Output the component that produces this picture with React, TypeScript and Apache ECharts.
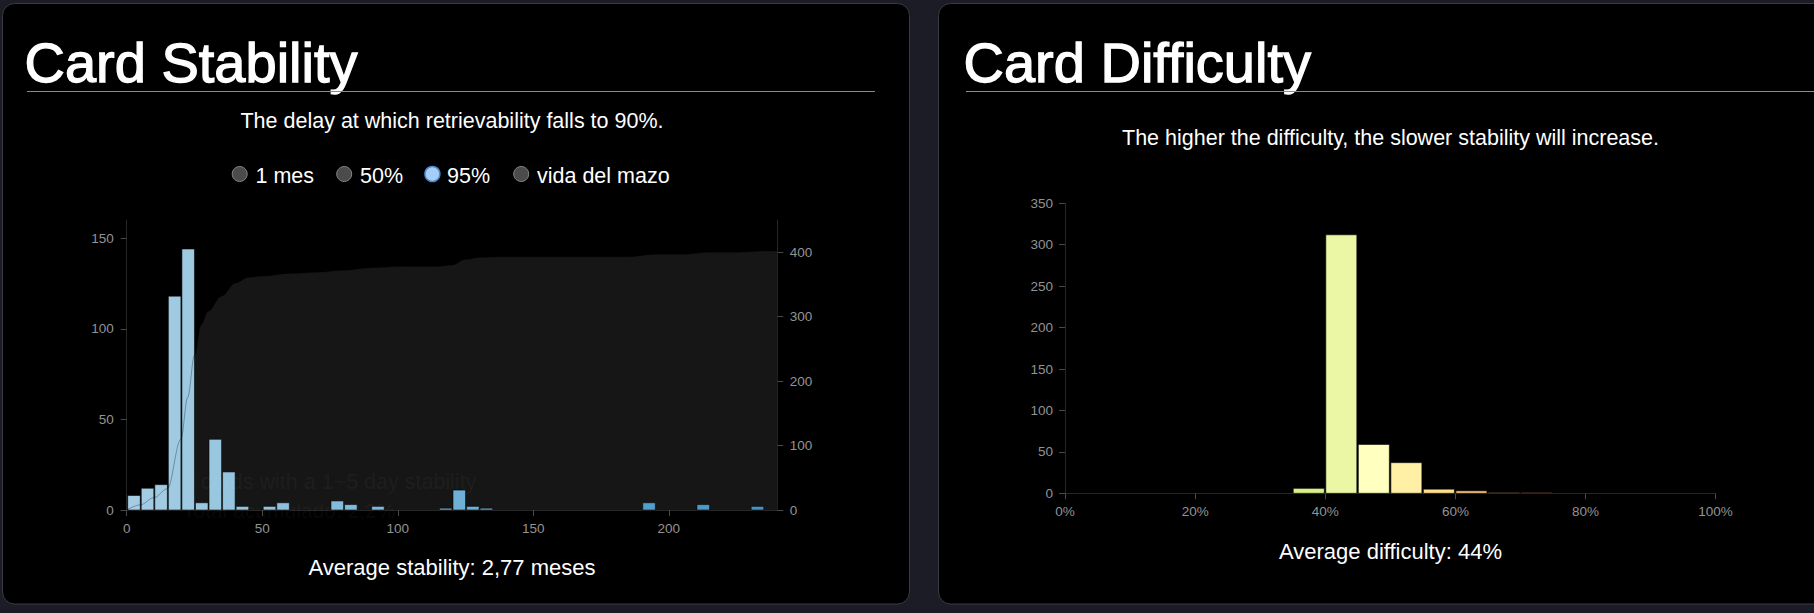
import React, { useEffect, useRef } from "react";
import * as echarts from "echarts";

// ---------- data ----------
const stabilityBinStart = [0, 5, 10, 15, 20, 25, 30, 35, 40, 50, 55, 75, 80, 90, 115, 120, 125, 130, 190, 210, 230];
const stabilityCounts = [8, 12, 14, 118, 144, 4, 39, 21, 2, 2, 4, 5, 3, 2, 1, 11, 2, 1, 4, 3, 2];
const stabilityBinWidth = 5;

const cumulativeDays = [0, 5, 10, 15, 20, 22.5, 25, 27.5, 30, 35, 40, 45, 50, 60, 70, 80, 90, 100, 115, 120, 125, 130, 140, 185, 195, 205, 215, 225, 235, 240];
const cumulativeCards = [0, 8, 19, 33, 110, 175, 240, 288, 308, 332, 352, 361, 363, 367, 369, 372, 376, 378, 378, 380, 389, 392, 393, 393, 397, 397, 400, 400, 402, 402];

const difficultyBinStart = [35, 40, 45, 50, 55, 60, 65, 70];
const difficultyCounts = [6, 312, 59, 37, 5, 3, 1, 1];
const difficultyBinWidth = 5;

const stabilityXTicks = [0, 50, 100, 150, 200];
const stabilityYTicks = [0, 50, 100, 150];
const cumulativeTicks = [0, 100, 200, 300, 400];

const radioLabels = ["1 mes", "50%", "95%", "vida del mazo"];
const radioChecked = [false, false, true, false];

// ---------- colours ----------
const BLUES = ["#f7fbff", "#deebf7", "#c6dbef", "#9ecae1", "#6baed6", "#4292c6", "#2171b5", "#08519c", "#08306b"];
const RDYLGN = ["#a50026", "#d73027", "#f46d43", "#fdae61", "#fee08b", "#ffffbf", "#d9ef8b", "#a6d96a", "#66bd63", "#1a9850", "#006837"];

function hexToRgb(h: string) {
  const n = parseInt(h.slice(1), 16);
  return [(n >> 16) & 255, (n >> 8) & 255, n & 255];
}
function interp(list: string[], t: number) {
  t = Math.max(0, Math.min(1, t));
  const p = t * (list.length - 1);
  const i = Math.min(list.length - 2, Math.floor(p));
  const f = p - i;
  const a = hexToRgb(list[i]);
  const b = hexToRgb(list[i + 1]);
  const c = a.map((v, k) => Math.round(v + (b[k] - v) * f));
  return `rgb(${c[0]},${c[1]},${c[2]})`;
}
const stabColor = (x1: number) => interp(BLUES, 0.35 + 0.27 * (x1 / 240));
const diffColor = (x1: number) => interp(RDYLGN, 1 - x1 / 100);

// ---------- layout ----------
const FONT = '"Liberation Sans", Arial, sans-serif';
const W = 1814;
const H = 613;
const G1 = { left: 126.7, top: 220, width: 650.6, height: 290 };
const G2 = { left: 1065.1, top: 203.3, width: 650.5, height: 290 };
const AXIS_LABEL = { color: "#939393", fontSize: 13.5, fontFamily: FONT };
const AXIS_LINE = { lineStyle: { color: "#262626", width: 1 } };
const AXIS_TICK_STYLE = { lineStyle: { color: "#4a4a4a", width: 1 }, length: 6 };

function txt(text: string, x: number, y: number, size: number, fill: string, align: string = "left", z = 20, strokeW = 0) {
  const style: any = {
    text,
    fill,
    font: `${size}px ${FONT}`,
    textAlign: align,
    align,
    textVerticalAlign: "middle",
    verticalAlign: "middle",
  };
  if (strokeW > 0) {
    style.stroke = fill;
    style.lineWidth = strokeW;
  }
  return { type: "text", x, y, z, silent: true, style };
}

function buildOption() {
  const radioCx = [239.7, 344.2, 432.4, 521.2];
  const radioTx = [255.5, 360, 447, 537];
  const graphics: any[] = [
    // cards
    { type: "rect", z: -10, silent: true, shape: { x: 2.5, y: 3.5, width: 907, height: 600.5, r: 12 }, style: { fill: "#000", stroke: "#3a3a44", lineWidth: 1 } },
    { type: "rect", z: -10, silent: true, shape: { x: 938.5, y: 3.5, width: 907, height: 600.5, r: 12 }, style: { fill: "#000", stroke: "#3a3a44", lineWidth: 1 } },
    // titles
    txt("Card Stability", 24.5, 62.4, 56, "#ffffff", "left", 20, 1.3),
    txt("Card Difficulty", 963.5, 62.4, 56, "#ffffff", "left", 20, 1.3),
    { type: "line", z: 20, silent: true, shape: { x1: 27, y1: 91.5, x2: 875, y2: 91.5 }, style: { stroke: "#8a8a8a", lineWidth: 1 } },
    { type: "line", z: 20, silent: true, shape: { x1: 966, y1: 91.5, x2: 1814, y2: 91.5 }, style: { stroke: "#8a8a8a", lineWidth: 1 } },
    // subtitles
    txt("The delay at which retrievability falls to 90%.", 452, 120.8, 21.5, "#ffffff", "center"),
    txt("The higher the difficulty, the slower stability will increase.", 1390.5, 138.2, 21.5, "#ffffff", "center"),
    // footers
    txt("Average stability: 2,77 meses", 452, 567.6, 22, "#ffffff", "center"),
    txt("Average difficulty: 44%", 1390.5, 551.6, 22, "#ffffff", "center"),
    // faint leftover tooltip text
    txt("3 cards with a 1~5 day stability", 183, 481.7, 21.5, "rgba(255,255,255,0.05)", "left", 5),
    txt("Total acumulado: 2,2%", 183, 510.3, 21, "rgba(255,255,255,0.05)", "left", 5),
  ];
  radioLabels.forEach((label, i) => {
    const checked = radioChecked[i];
    graphics.push({
      type: "circle",
      z: 20,
      silent: true,
      shape: { cx: radioCx[i], cy: 174, r: 7.5 },
      style: checked
        ? { fill: "#a6cdf5", stroke: "#4f86c8", lineWidth: 1.5 }
        : { fill: "#4b4b4b", stroke: "#848484", lineWidth: 1 },
    });
    graphics.push(txt(label, radioTx[i], 175.5, 21.5, "#ffffff"));
  });

  return {
    animation: false,
    backgroundColor: "#1c1c26",
    graphic: { elements: graphics },
    grid: [
      { ...G1, containLabel: false },
      { ...G2, containLabel: false },
    ],
    xAxis: [
      {
        type: "value",
        gridIndex: 0,
        min: 0,
        max: 240,
        interval: 50,
        axisLine: AXIS_LINE,
        axisTick: { ...AXIS_TICK_STYLE, customValues: stabilityXTicks },
        axisLabel: { ...AXIS_LABEL, margin: 11.5, customValues: stabilityXTicks },
        splitLine: { show: false },
      },
      {
        type: "value",
        gridIndex: 1,
        min: 0,
        max: 100,
        interval: 20,
        axisLine: AXIS_LINE,
        axisTick: AXIS_TICK_STYLE,
        axisLabel: { ...AXIS_LABEL, margin: 11.5, formatter: (v: number) => `${v}%` },
        splitLine: { show: false },
      },
    ],
    yAxis: [
      {
        type: "value",
        gridIndex: 0,
        position: "left",
        min: 0,
        max: 160,
        interval: 50,
        axisLine: { show: true, ...AXIS_LINE },
        axisTick: { show: true, ...AXIS_TICK_STYLE, customValues: stabilityYTicks },
        axisLabel: { ...AXIS_LABEL, margin: 13, customValues: stabilityYTicks },
        splitLine: { show: false },
      },
      {
        type: "value",
        gridIndex: 0,
        position: "right",
        min: 0,
        max: 450,
        interval: 100,
        axisLine: { show: true, ...AXIS_LINE },
        axisTick: { show: true, ...AXIS_TICK_STYLE, customValues: cumulativeTicks },
        axisLabel: { ...AXIS_LABEL, margin: 12.5, customValues: cumulativeTicks },
        splitLine: { show: false },
      },
      {
        type: "value",
        gridIndex: 1,
        position: "left",
        min: 0,
        max: 350,
        interval: 50,
        axisLine: { show: true, ...AXIS_LINE },
        axisTick: { show: true, ...AXIS_TICK_STYLE },
        axisLabel: { ...AXIS_LABEL, margin: 12 },
        splitLine: { show: false },
      },
    ],
    series: [
      {
        type: "line",
        xAxisIndex: 0,
        yAxisIndex: 1,
        z: 1,
        silent: true,
        smooth: 0.35,
        smoothMonotone: "x",
        symbol: "none",
        lineStyle: { width: 0, opacity: 0 },
        areaStyle: { color: "#161616", opacity: 1 },
        data: cumulativeDays.map((d, i) => [d, cumulativeCards[i]]),
      },
      {
        type: "custom",
        xAxisIndex: 0,
        yAxisIndex: 0,
        z: 3,
        silent: true,
        encode: { x: 0, y: 1 },
        data: stabilityBinStart.map((d, i) => [d, stabilityCounts[i]]),
        renderItem: (params: any, api: any) => {
          const x0 = api.value(0) as number;
          const v = api.value(1) as number;
          const a = api.coord([x0, v]);
          const b = api.coord([x0 + stabilityBinWidth, 0]);
          return {
            type: "rect",
            shape: { x: a[0] + 1, y: a[1], width: b[0] - a[0] - 1, height: b[1] - a[1] },
            style: { fill: stabColor(x0 + stabilityBinWidth), stroke: "rgba(0,0,0,0.55)", lineWidth: 1 },
          };
        },
      },
      {
        type: "line",
        xAxisIndex: 0,
        yAxisIndex: 1,
        z: 4,
        silent: true,
        smooth: 0.35,
        smoothMonotone: "x",
        symbol: "none",
        lineStyle: { color: "rgba(0,0,0,0.3)", width: 1 },
        data: cumulativeDays.map((d, i) => [d, cumulativeCards[i]]),
      },
      {
        type: "custom",
        xAxisIndex: 1,
        yAxisIndex: 2,
        z: 3,
        silent: true,
        encode: { x: 0, y: 1 },
        data: difficultyBinStart.map((d, i) => [d, difficultyCounts[i]]),
        renderItem: (params: any, api: any) => {
          const x0 = api.value(0) as number;
          const v = api.value(1) as number;
          const a = api.coord([x0, v]);
          const b = api.coord([x0 + difficultyBinWidth, 0]);
          return {
            type: "rect",
            shape: { x: a[0] + 0.5, y: a[1], width: b[0] - a[0] - 1.5, height: b[1] - a[1] },
            style: { fill: diffColor(x0 + difficultyBinWidth), stroke: "rgba(0,0,0,0.6)", lineWidth: 1 },
          };
        },
      },
    ],
  };
}

export default function App() {
  const ref = useRef<HTMLDivElement>(null);
  useEffect(() => {
    if (!ref.current) return;
    const chart = echarts.init(ref.current, null, { renderer: "svg" });
    chart.setOption(buildOption() as any);
    return () => chart.dispose();
  }, []);
  return (
    <div
      ref={ref}
      style={{ position: "fixed", left: 0, top: 0, width: W, height: H, background: "#1c1c26" }}
    />
  );
}
